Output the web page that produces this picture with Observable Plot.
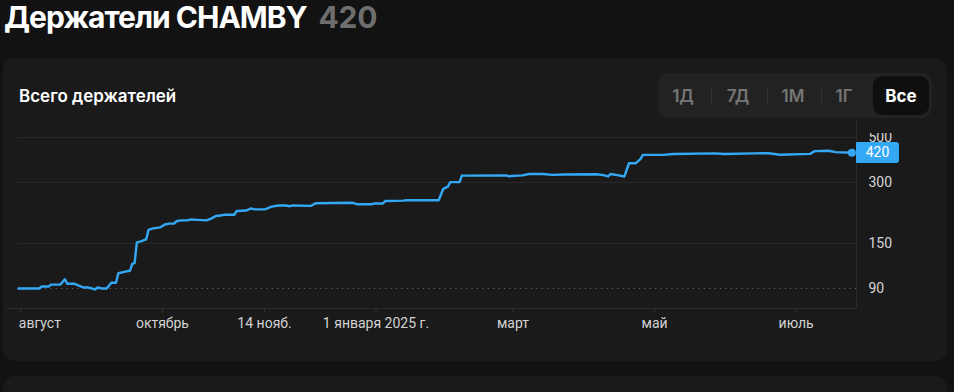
<!DOCTYPE html>
<html><head><meta charset="utf-8">
<script src="https://cdn.jsdelivr.net/npm/d3@7"></script>
<script src="https://cdn.jsdelivr.net/npm/@observablehq/plot@0.6"></script>
<style>
html,body{margin:0;padding:0;}
body{background:#121212;width:954px;height:392px;overflow:hidden;position:relative;font-family:Inter,"Noto Sans",sans-serif;}
.abs{position:absolute;}
#title{left:4px;top:2px;font-size:30px;line-height:30px;font-weight:700;color:#fff;white-space:nowrap;letter-spacing:-1px;}
#title span{color:#6e6e6e;margin-left:12px;letter-spacing:-0.3px;}
.card{left:3px;width:944px;background:#1a1a1a;border-radius:12px;}
#card1{top:58px;height:303px;}
#card2{top:376px;height:40px;}
#sub{left:19px;top:88px;font-size:17px;line-height:17px;font-weight:600;color:#fff;white-space:nowrap;}
#tabs{left:658px;top:73px;width:274px;height:45px;background:#222;border-radius:11px;}
.tab{position:absolute;top:15px;font-size:17px;line-height:17px;font-weight:600;color:#767676;transform:translateX(-50%);white-space:nowrap;}
.sep{position:absolute;top:15px;width:1px;height:15px;background:#333;}
#active{position:absolute;left:215px;top:3px;width:56px;height:39px;background:#0f0f0f;border-radius:9px;}
#active div{position:absolute;left:50%;top:12px;transform:translateX(-50%);font-size:17px;line-height:17px;font-weight:700;color:#fff;}
#chart{left:0;top:120px;}
#mask{left:857px;top:120px;width:85px;height:13px;background:#1a1a1a;}
#badge{left:856px;width:43px;height:21px;background:#33a9f5;border-radius:1px 3px 3px 1px;color:#fff;font-family:Roboto,sans-serif;font-size:14px;line-height:21px;text-align:center;}
</style></head><body>
<div class="abs card" id="card1"></div>
<div class="abs card" id="card2"></div>
<div class="abs" id="title">Держатели CHAMBY<span>420</span></div>
<div class="abs" id="sub">Всего держателей</div>
<div class="abs" id="tabs">
  <div class="tab" style="left:25px">1Д</div>
  <div class="sep" style="left:53px"></div>
  <div class="tab" style="left:80px">7Д</div>
  <div class="sep" style="left:109px"></div>
  <div class="tab" style="left:135px">1М</div>
  <div class="sep" style="left:163px"></div>
  <div class="tab" style="left:186px">1Г</div>
  <div id="active"><div>Все</div></div>
</div>
<div class="abs" id="chart"></div>
<script>
// ---- data ----
const dates = ["2024-07-31","2024-08-09","2024-08-10","2024-08-13","2024-08-14","2024-08-18","2024-08-20","2024-08-21","2024-08-24","2024-08-26","2024-08-28","2024-08-30","2024-09-02","2024-09-03","2024-09-05","2024-09-07","2024-09-09","2024-09-11","2024-09-12","2024-09-15","2024-09-17","2024-09-18","2024-09-19","2024-09-20","2024-09-22","2024-09-24","2024-09-25","2024-09-27","2024-09-30","2024-10-02","2024-10-04","2024-10-06","2024-10-07","2024-10-09","2024-10-12","2024-10-13","2024-10-16","2024-10-20","2024-10-22","2024-10-24","2024-10-26","2024-10-28","2024-11-01","2024-11-02","2024-11-06","2024-11-08","2024-11-10","2024-11-14","2024-11-15","2024-11-17","2024-11-20","2024-11-23","2024-11-25","2024-11-26","2024-12-04","2024-12-06","2024-12-22","2024-12-24","2024-12-30","2024-12-31","2025-01-04","2025-01-05","2025-01-13","2025-01-14","2025-01-28","2025-01-30","2025-02-01","2025-02-02","2025-02-06","2025-02-07","2025-02-26","2025-02-27","2025-03-05","2025-03-08","2025-03-14","2025-03-18","2025-03-23","2025-04-06","2025-04-09","2025-04-11","2025-04-12","2025-04-15","2025-04-18","2025-04-20","2025-04-23","2025-04-25","2025-04-26","2025-05-05","2025-05-09","2025-05-27","2025-05-31","2025-06-13","2025-06-19","2025-06-24","2025-07-07","2025-07-09","2025-07-15","2025-07-18","2025-07-25"];
const holders = [90,90,92,92,94,94,100,95,95,93,91,91,89,91,90,90,96,96,107,109,110,119,120,152,154,157,175,178,180,186,188,188,193,195,195,197,196,195,199,205,206,208,208,217,218,223,221,221,223,228,231,231,229,231,230,237,238,234,234,236,236,243,244,245,245,279,286,301,301,324,325,322,325,330,330,327,328,329,326,321,330,326,321,373,373,392,410,410,414,417,414,417,418,411,415,428,430,423,420];
const xTickDates = ["2024-08-01","2024-10-01","2024-11-14","2025-01-01","2025-03-01","2025-05-01","2025-07-01"];
const xTickLabels = ["август","октябрь","14 нояб.","1 января 2025 г.","март","май","июль"];
const yTicks = [500, 300, 150, 90];
const gridValues = [500, 300, 150];
const baseValue = 90;
const currentValue = 420;

// ---- build ----
const parse = d3.utcParse("%Y-%m-%d");
const series = dates.map((d, i) => ({date: parse(d), value: holders[i]}));
const xt = xTickDates.map((d, i) => ({date: parse(d), label: xTickLabels[i]}));
const xDomain = [parse("2024-07-31"), parse("2025-07-27")];
const yDomain = [71.7, 606];
const blue = "#33a9f5";
const last = series[series.length - 1];

const chart = Plot.plot({
  width: 954, height: 230,
  marginLeft: 18, marginRight: 98, marginTop: 0, marginBottom: 42,
  style: {background: "transparent", color: "#d4d4d4", fontFamily: "Roboto, sans-serif", fontSize: "14px", overflow: "visible"},
  x: {type: "utc", domain: xDomain, axis: null},
  y: {type: "log", domain: yDomain, axis: null},
  marks: [
    Plot.ruleY(gridValues, {stroke: "#2a2a2a", strokeWidth: 1}),
    Plot.ruleY([baseValue], {stroke: "#8a8a8a", strokeWidth: 1, strokeDasharray: "1,4.4", strokeOpacity: 0.8}),
    Plot.ruleY([yDomain[0]], {x1: parse("2024-07-26"), x2: xDomain[1], stroke: "#2c2c2c"}),
    Plot.ruleX([xDomain[1]], {stroke: "#2c2c2c"}),
    Plot.axisX({ticks: xt.map(d => d.date), tickSize: 5, tickFormat: () => "", stroke: "#333", strokeOpacity: 1}),
    Plot.text(xt.slice(0, 1), {x: "date", text: "label", frameAnchor: "bottom", dy: 19, dx: -2, textAnchor: "start", fill: "#d2d2d2", fontSize: 14}),
    Plot.text(xt.slice(1), {x: "date", text: "label", frameAnchor: "bottom", dy: 19, fill: "#d2d2d2", fontSize: 14}),
    Plot.text(yTicks, {y: d => d, text: d => String(d), frameAnchor: "right", dx: 12, textAnchor: "start", fill: "#d6d6d6", fontSize: 14}),
    Plot.line(series, {x: "date", y: "value", stroke: blue, strokeWidth: 2.4, strokeLinejoin: "round"}),
    Plot.dot([last], {x: "date", y: "value", r: 4, fill: blue})
  ]
});
document.getElementById("chart").appendChild(chart);

const yPos = chart.scale("y").apply(currentValue);
const badge = document.createElement("div");
badge.className = "abs"; badge.id = "badge";
badge.textContent = String(currentValue);
badge.style.top = (120 + yPos - 10.5) + "px";
document.body.appendChild(badge);
const mask = document.createElement("div");
mask.className = "abs"; mask.id = "mask";
document.body.appendChild(mask);
</script>
</body></html>
